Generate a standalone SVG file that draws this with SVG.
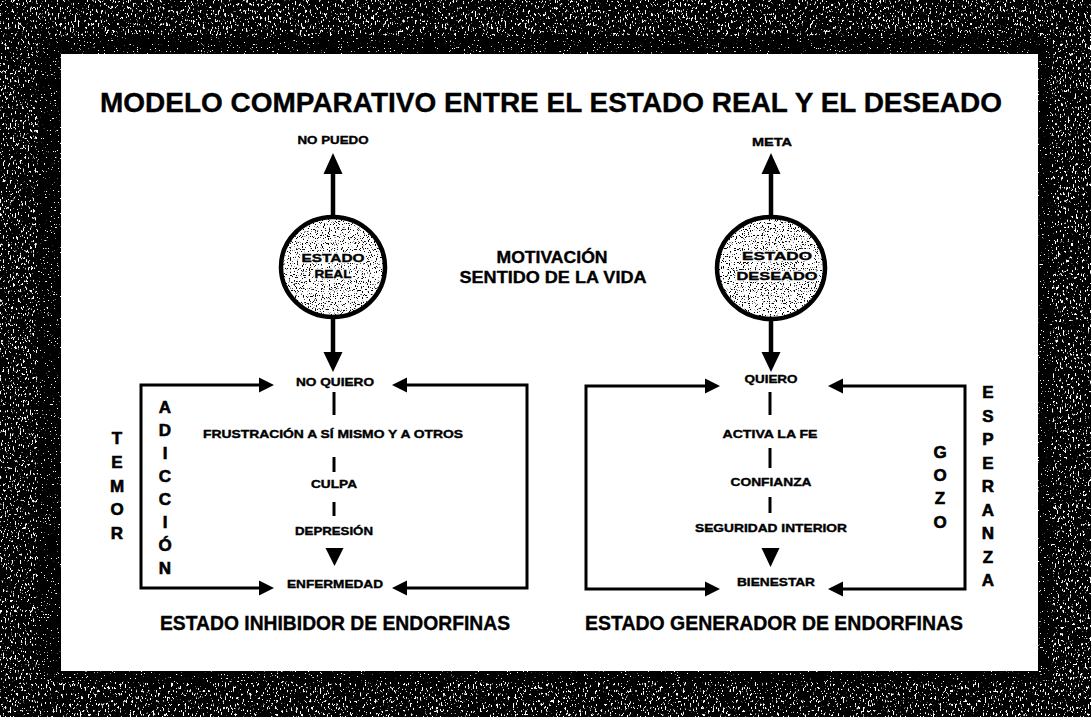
<svg xmlns="http://www.w3.org/2000/svg" width="1091" height="717" viewBox="0 0 1091 717">
<defs>
<style>
.t{font-family:"Liberation Sans",Arial,sans-serif;font-weight:bold;fill:#000;stroke:#000;stroke-width:0.35px}
.s{font-size:10.5px;text-anchor:middle}
.v{font-size:17px;text-anchor:middle;stroke-width:0.6px}
.b{font-size:19.5px;text-anchor:middle}
.m{font-size:16px;text-anchor:middle}
.halo{fill:#fff;stroke:#fff;stroke-width:3px;stroke-linejoin:round}
.ln{fill:none;stroke:#000;stroke-width:3}
.thk{fill:none;stroke:#000;stroke-width:4.5}
.ah{fill:#000}
</style>
<filter id="fHeavy" filterUnits="userSpaceOnUse" x="0" y="0" width="1091" height="717">
<feTurbulence type="fractalNoise" baseFrequency="0.6 0.3" numOctaves="2" seed="7"/>
<feColorMatrix type="matrix" values="0 0 0 0 1  0 0 0 0 1  0 0 0 0 1  16 0 0 0 -9.9"/>
</filter>
<filter id="fLight" filterUnits="userSpaceOnUse" x="0" y="0" width="1091" height="717">
<feTurbulence type="fractalNoise" baseFrequency="0.7" numOctaves="2" seed="11"/>
<feColorMatrix type="matrix" values="0 0 0 0 1  0 0 0 0 1  0 0 0 0 1  18 0 0 0 -12.6"/>
</filter>
<filter id="fDots" filterUnits="userSpaceOnUse" x="260" y="200" width="580" height="140">
<feTurbulence type="fractalNoise" baseFrequency="0.85" numOctaves="1" seed="3"/>
<feColorMatrix type="matrix" values="0 0 0 0 0  0 0 0 0 0  0 0 0 0 0  16 0 0 0 -9.4"/>
</filter>
<clipPath id="ring"><path clip-rule="evenodd" d="M0 0H1091V717H0Z M38 36H1052V682H38Z"/></clipPath>
<clipPath id="band"><path clip-rule="evenodd" d="M38 36H1052V682H38Z M61 54H1038V671H61Z"/></clipPath>
<clipPath id="cReal"><ellipse cx="333" cy="267" rx="52" ry="50"/></clipPath>
<clipPath id="cDes"><ellipse cx="771" cy="268" rx="54" ry="51"/></clipPath>
</defs>

<g id="frame">
<rect x="0" y="0" width="1091" height="717" fill="#000"/>
<rect x="0" y="0" width="1091" height="717" filter="url(#fHeavy)" clip-path="url(#ring)"/>
<rect x="0" y="0" width="1091" height="717" filter="url(#fLight)" clip-path="url(#band)"/>
<rect x="61" y="54" width="977" height="617" fill="#fff"/>
</g>

<g id="title">
<text class="t" x="100" y="112" font-size="27" stroke-width="0.6" textLength="902" lengthAdjust="spacingAndGlyphs">MODELO COMPARATIVO ENTRE EL ESTADO REAL Y EL DESEADO</text>
</g>

<g id="connectors">
<line class="thk" x1="333" y1="217" x2="333" y2="170"/>
<polygon class="ah" points="333,153 323.5,174 342.5,174"/>
<line class="thk" x1="333" y1="317" x2="333" y2="356"/>
<polygon class="ah" points="333,372 323.5,352 342.5,352"/>
<path class="ln" d="M262 385H141V588H262"/>
<polygon class="ah" points="274,385 259,377.5 259,392.5"/>
<polygon class="ah" points="274,588 259,580.5 259,595.5"/>
<path class="ln" d="M404 385H527V588H404"/>
<polygon class="ah" points="392,385 407,377.5 407,392.5"/>
<polygon class="ah" points="392,588 407,580.5 407,595.5"/>
<line class="ln" x1="334" y1="392" x2="334" y2="415"/>
<line class="ln" x1="334" y1="457" x2="334" y2="472"/>
<line class="ln" x1="334" y1="502" x2="334" y2="516"/>
<polygon class="ah" points="325.5,548 343.5,548 334.5,566"/>
<line class="thk" x1="771" y1="218" x2="771" y2="170"/>
<polygon class="ah" points="771,153 761.5,174 780.5,174"/>
<line class="thk" x1="771" y1="319" x2="771" y2="356"/>
<polygon class="ah" points="771,372 761.5,352 780.5,352"/>
<path class="ln" d="M708 386H586V589H708"/>
<polygon class="ah" points="720,386 705,378.5 705,393.5"/>
<polygon class="ah" points="720,589 705,581.5 705,596.5"/>
<path class="ln" d="M840 386H965V589H840"/>
<polygon class="ah" points="828,386 843,378.5 843,393.5"/>
<polygon class="ah" points="828,589 843,581.5 843,596.5"/>
<line class="ln" x1="770" y1="392" x2="770" y2="415"/>
<line class="ln" x1="770" y1="448" x2="770" y2="468"/>
<line class="ln" x1="770" y1="497" x2="770" y2="513"/>
<polygon class="ah" points="761.5,548 779.5,548 770.5,567"/>
</g>

<g id="estado-real">
<ellipse cx="333" cy="267" rx="52" ry="50" fill="#fff"/>
<rect x="270" y="205" width="130" height="130" filter="url(#fDots)" clip-path="url(#cReal)"/>
<ellipse class="thk" cx="333" cy="267" rx="52" ry="50"/>
<text class="t s halo" x="333" y="262" font-size="11.5" textLength="63" lengthAdjust="spacingAndGlyphs">ESTADO</text>
<text class="t s halo" x="333" y="278" font-size="11.5" textLength="37" lengthAdjust="spacingAndGlyphs">REAL</text>
<text class="t s" x="333" y="262" font-size="11.5" stroke-width="0.6" textLength="63" lengthAdjust="spacingAndGlyphs">ESTADO</text>
<text class="t s" x="333" y="278" font-size="11.5" stroke-width="0.6" textLength="37" lengthAdjust="spacingAndGlyphs">REAL</text>
</g>

<g id="estado-deseado">
<ellipse cx="771" cy="268" rx="54" ry="51" fill="#fff"/>
<rect x="705" y="205" width="135" height="130" filter="url(#fDots)" clip-path="url(#cDes)"/>
<ellipse class="thk" cx="771" cy="268" rx="54" ry="51"/>
<text class="t s halo" x="777" y="260" font-size="11.5" textLength="70" lengthAdjust="spacingAndGlyphs">ESTADO</text>
<text class="t s halo" x="777" y="280" font-size="11.5" textLength="81" lengthAdjust="spacingAndGlyphs">DESEADO</text>
<text class="t s" x="777" y="260" font-size="11.5" stroke-width="0.6" textLength="70" lengthAdjust="spacingAndGlyphs">ESTADO</text>
<text class="t s" x="777" y="280" font-size="11.5" stroke-width="0.6" textLength="81" lengthAdjust="spacingAndGlyphs">DESEADO</text>
</g>

<g id="motivacion">
<text class="t m" x="552" y="263" textLength="111" lengthAdjust="spacingAndGlyphs">MOTIVACIÓN</text>
<text class="t m" x="553" y="283" textLength="187" lengthAdjust="spacingAndGlyphs">SENTIDO DE LA VIDA</text>
</g>

<g id="no-puedo"><text class="t s" x="333" y="144" textLength="71" lengthAdjust="spacingAndGlyphs">NO PUEDO</text></g>
<g id="meta"><text class="t s" x="772" y="146" textLength="40" lengthAdjust="spacingAndGlyphs">META</text></g>

<g id="no-quiero"><text class="t s" x="335" y="386" textLength="78" lengthAdjust="spacingAndGlyphs">NO QUIERO</text></g>
<g id="frustracion"><text class="t s" x="333" y="438" textLength="260" lengthAdjust="spacingAndGlyphs">FRUSTRACIÓN A SÍ MISMO Y A OTROS</text></g>
<g id="culpa"><text class="t s" x="334" y="488" textLength="46" lengthAdjust="spacingAndGlyphs">CULPA</text></g>
<g id="depresion"><text class="t s" x="334" y="535" textLength="78" lengthAdjust="spacingAndGlyphs">DEPRESIÓN</text></g>
<g id="enfermedad"><text class="t s" x="335" y="588" textLength="96" lengthAdjust="spacingAndGlyphs">ENFERMEDAD</text></g>

<g id="quiero"><text class="t s" x="771" y="383" textLength="53" lengthAdjust="spacingAndGlyphs">QUIERO</text></g>
<g id="activa-fe"><text class="t s" x="770" y="438" textLength="95" lengthAdjust="spacingAndGlyphs">ACTIVA LA FE</text></g>
<g id="confianza"><text class="t s" x="771" y="486" textLength="81" lengthAdjust="spacingAndGlyphs">CONFIANZA</text></g>
<g id="seguridad"><text class="t s" x="771" y="532" textLength="152" lengthAdjust="spacingAndGlyphs">SEGURIDAD INTERIOR</text></g>
<g id="bienestar"><text class="t s" x="776" y="586" textLength="78" lengthAdjust="spacingAndGlyphs">BIENESTAR</text></g>

<g id="temor" class="t v">
<text x="117" y="444">T</text><text x="117" y="468">E</text><text x="117" y="492">M</text><text x="117" y="515">O</text><text x="117" y="539">R</text>
</g>
<g id="adiccion" class="t v">
<text x="165" y="413">A</text><text x="165" y="436">D</text><text x="165" y="459">I</text><text x="165" y="482">C</text><text x="165" y="505">C</text><text x="165" y="528">I</text><text x="165" y="551">Ó</text><text x="165" y="574">N</text>
</g>
<g id="gozo" class="t v">
<text x="940" y="458">G</text><text x="940" y="481">O</text><text x="940" y="504">Z</text><text x="940" y="528">O</text>
</g>
<g id="esperanza" class="t v">
<text x="988" y="398">E</text><text x="988" y="421.5">S</text><text x="988" y="445">P</text><text x="988" y="468.5">E</text><text x="988" y="492">R</text><text x="988" y="515.5">A</text><text x="988" y="539">N</text><text x="988" y="562.5">Z</text><text x="988" y="586">A</text>
</g>

<g id="inhibidor"><text class="t b" x="335" y="630" textLength="350" lengthAdjust="spacingAndGlyphs">ESTADO INHIBIDOR DE ENDORFINAS</text></g>
<g id="generador"><text class="t b" x="774" y="630" textLength="378" lengthAdjust="spacingAndGlyphs">ESTADO GENERADOR DE ENDORFINAS</text></g>
</svg>
